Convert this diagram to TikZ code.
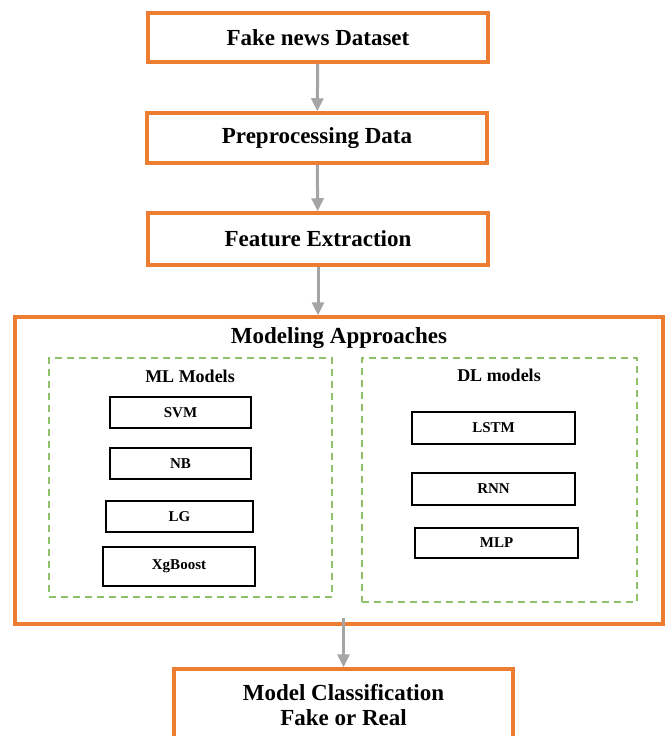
\documentclass[tikz,border=0pt]{standalone}
\usepackage{fontspec}
\setmainfont{Liberation Serif}
\usepackage{tikz}
\usepackage{xcolor}
\usetikzlibrary{arrows.meta}

\definecolor{boxorange}{HTML}{ED7D31}
\definecolor{arrowgray}{HTML}{A5A5A5}
\definecolor{dashgreen}{HTML}{8DC26A}

\begin{document}
\begin{tikzpicture}[x=1pt,y=-1pt,
    stagebox/.style={draw=boxorange,line width=3.5pt,fill=white,inner sep=0pt,
      font=\fontsize{23}{25}\selectfont\bfseries,align=center},
    groupbox/.style={draw=dashgreen,line width=1.3pt,dash pattern=on 7pt off 5pt,inner sep=0pt},
    modelbox/.style={draw=black,line width=1.2pt,inner sep=0pt,
      font=\fontsize{15}{17}\selectfont\bfseries},
    grouptitle/.style={font=\fontsize{18}{20}\selectfont\bfseries},
    flow/.style={draw=arrowgray,line width=3pt,-{Triangle[width=12pt,length=13pt]}}]
  \clip (0,0) rectangle (669,736);
  \fill[white] (0,0) rectangle (669,736);

  % Pipeline stages
  \node[stagebox,minimum width=340,minimum height=49] (dataset) at (318,37.5) {Fake news Dataset};
  \node[stagebox,minimum width=340,minimum height=50] (preproc) at (317,138) {Preprocessing Data};
  \node[stagebox,minimum width=340,minimum height=52] (features) at (318,239) {Feature Extraction};

  % Modeling approaches
  \node[stagebox,minimum width=648,minimum height=307] (modeling) at (339,470.5) {};
  \node[font=\fontsize{23}{25}\selectfont\bfseries] (modtitle) at (339,338) {Modeling Approaches};

  % ML models
  \node[groupbox,minimum width=283,minimum height=239] (mlgroup) at (190.5,477.5) {};
  \node[grouptitle] (mltitle) at (190,376) {ML Models};
  \node[modelbox,minimum width=141,minimum height=31] (svm) at (180.5,412.5) {SVM};
  \node[modelbox,minimum width=141,minimum height=31] (nb) at (180.5,463.5) {NB};
  \node[modelbox,minimum width=147,minimum height=31] (lg) at (179.5,516.5) {LG};
  \node[modelbox,minimum width=152,minimum height=39] (xgb) at (179,566.5) {XgBoost};

  % DL models
  \node[groupbox,minimum width=275,minimum height=244] (dlgroup) at (499.5,480) {};
  \node[grouptitle] (dltitle) at (499,375) {DL models};
  \node[modelbox,minimum width=163,minimum height=32] (lstm) at (493.5,428) {LSTM};
  \node[modelbox,minimum width=163,minimum height=32] (rnn) at (493.5,489) {RNN};
  \node[modelbox,minimum width=163,minimum height=30] (mlp) at (496.5,543) {MLP};

  % Output
  \node[stagebox,minimum width=339,minimum height=73] (result) at (343.5,705.5) {Model Classification\\Fake or Real};

  % Arrows
  \draw[flow] (dataset) -- (preproc);
  \draw[flow] (preproc) -- (features);
  \draw[flow] (features.south) -- (features.south |- modeling.north);
  \draw[flow] ([yshift=8pt]modeling.south -| result.north) -- (result.north);
\end{tikzpicture}
\end{document}
